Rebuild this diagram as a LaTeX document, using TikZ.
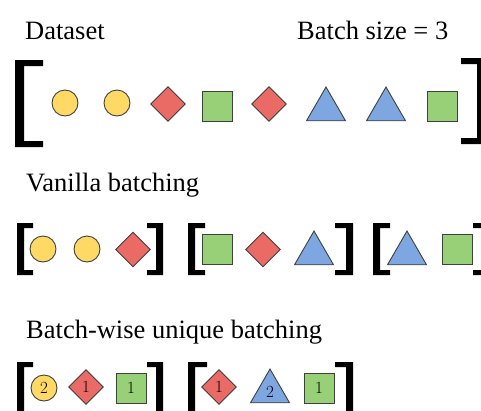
\documentclass[tikz,border=0pt]{standalone}
\usepackage{fontspec}
\usetikzlibrary{shapes.geometric}
\newfontfamily\captionserif{Liberation Serif}

\definecolor{edge}{HTML}{404040}
\definecolor{ylw}{HTML}{FFD966}
\definecolor{rd}{HTML}{EA6B66}
\definecolor{grn}{HTML}{97D077}
\definecolor{blu}{HTML}{7EA6E0}

% left / right square bracket: outer x, arm end x, top y, bottom y, bar width, arm width
\newcommand\LBr[6]{\fill (#1,#3) -- (#2,#3) -- (#2,{#3+#6}) -- ({#1+#5},{#3+#6}) -- ({#1+#5},{#4-#6}) -- (#2,{#4-#6}) -- (#2,#4) -- (#1,#4) -- cycle;}
\newcommand\RBr[6]{\fill (#1,#3) -- (#2,#3) -- (#2,{#3+#6}) -- ({#1-#5},{#3+#6}) -- ({#1-#5},{#4-#6}) -- (#2,{#4-#6}) -- (#2,#4) -- (#1,#4) -- cycle;}

\tikzset{
  item/.style={draw=edge, line width=0.9pt, inner sep=0pt,
    font=\fontsize{17}{17}\selectfont},
  ball/.style={item, circle, fill=ylw, minimum size=26},
  gem/.style={item, diamond, fill=rd, minimum size=35},
  box/.style={item, rectangle, fill=grn, minimum size=30},
  tri/.style={item, regular polygon, regular polygon sides=3, fill=blu, minimum size=45},
  heading/.style={anchor=base west, inner sep=0pt,
    font=\captionserif\fontsize{26.5}{31}\selectfont},
}

\begin{document}
\begin{tikzpicture}[x=1pt, y=-1pt]
\useasboundingbox (0,0) rectangle (481,410);
\clip (0,0) rectangle (481,410);

% headings
\node[heading] (tDataset) at (25,39) {Dataset};
\node[heading] (tBatch) at (297,39) {Batch size = 3};
\node[heading] (tVanilla) at (26,191) {Vanilla batching};
\node[heading] (tUnique) at (26,338) {Batch-wise unique batching};

% full dataset
\LBr{15}{43}{60}{147}{9}{6}
\RBr{486}{461}{58}{144}{9}{6}
\node[ball] (d1) at (65,103) {};
\node[ball] (d2) at (117,103) {};
\node[gem]  (d3) at (168,104) {};
\node[box]  (d4) at (217,106) {};
\node[gem]  (d5) at (269,104) {};
\node[tri]  (d6) at (326,109.5) {};
\node[tri]  (d7) at (386,109.5) {};
\node[box]  (d8) at (442,106) {};

% vanilla batches
\LBr{17}{33}{223}{275}{7}{5}
\RBr{163}{147}{223}{275}{7}{5}
\LBr{188}{205}{223}{275}{7}{5}
\RBr{353}{335}{223}{275}{7}{5}
\LBr{373}{390}{223}{275}{7}{5}
\RBr{488}{473}{223}{275}{7}{5}
\node[ball] (v1) at (43,249) {};
\node[ball] (v2) at (87,249) {};
\node[gem]  (v3) at (133,249.5) {};
\node[box]  (v4) at (217,249) {};
\node[gem]  (v5) at (263,249.5) {};
\node[tri]  (v6) at (314,253.5) {};
\node[tri]  (v7) at (407,253.5) {};
\node[box]  (v8) at (457,249) {};

% batch-wise unique batches with counts
\LBr{17}{33}{362}{416}{7}{5}
\RBr{163}{147}{362}{416}{7}{5}
\LBr{188}{207}{362}{416}{7}{5}
\RBr{353}{335}{362}{416}{7}{5}
\node[ball] (u1) at (44,388) {2};
\node[gem]  (u2) at (86,387) {1};
\node[box]  (u3) at (131,388) {1};
\node[gem]  (u4) at (219,387) {1};
\node[tri]  (u5) at (270,391.5) {2};
\node[box]  (u6) at (319,388) {1};
\end{tikzpicture}
\end{document}
